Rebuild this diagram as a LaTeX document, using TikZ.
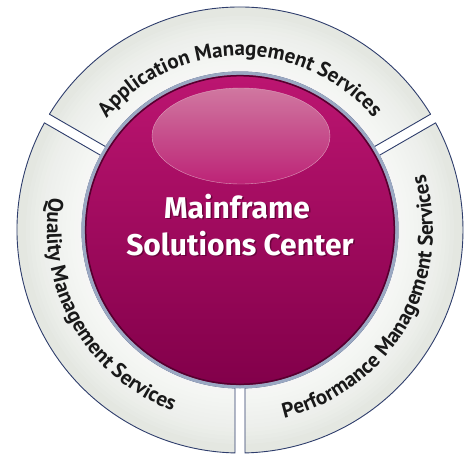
\documentclass[tikz,border=0pt]{standalone}
\usepackage{fontspec}
\setmainfont{Fira Sans}
\newfontfamily\ringfamily{PT Sans}
\usetikzlibrary{decorations.text}
\definecolor{ringedge}{HTML}{2E3D6C}
\definecolor{ringface}{HTML}{E4E7E1}
\definecolor{balltop}{HTML}{BC1571}
\definecolor{ballmid}{HTML}{AD0C63}
\definecolor{ballbot}{HTML}{82004A}
\definecolor{ballrim}{HTML}{55002E}
\definecolor{halo}{HTML}{9AA8C2}
\definecolor{shine}{HTML}{D383A6}
\newcommand\ringfont{\ringfamily\bfseries\fontsize{21}{21}\selectfont}

\begin{document}
\begin{tikzpicture}[x=1pt,y=1pt,
    segment/.style={fill=ringface,draw=ringedge,line width=0.9pt,line join=round,
      path picture={\foreach \r in {214,210,...,162}
        \fill[white,opacity=0.1] (0,0) circle (\r);}},
    ringlabel/.style={decorate,decoration={text along path,text align=center,
        text color=black!90}},
    title/.style={font=\fontsize{30}{30}\bfseries\selectfont,anchor=base}]
  \useasboundingbox (-240,-226) rectangle (233,230);

  % three ring segments, gaps at 30, 150 and 270 degrees
  \foreach \a in {30,150,270} {
    \pgfmathsetmacro\b{\a+120}
    \draw[segment] ({\a+asin(5/223)}:223)
      arc[start angle={\a+asin(5/223)},end angle={\b-asin(5/223)},radius=223]
      -- ({\b-asin(5/158)}:158)
      arc[start angle={\b-asin(5/158)},end angle={\a+asin(5/158)},radius=158]
      -- cycle;
  }

  % ball
  \fill[halo] (0,0) circle (158.5);
  \shade[top color=balltop,middle color=ballmid,bottom color=ballbot] (0,0) circle (155);
  \draw[ballrim,line width=1.5pt] (0,0) circle (154.3);
  \shade[top color=shine,bottom color=balltop!85!shine,draw=shine!70!white,
    line width=0.4pt,opacity=0.9] (1,94) ellipse [x radius=89,y radius=48];

  \node[title,text=ballrim,opacity=0.7] (mainshadow) at (-1.5,10.5) {Mainframe};
  \node[title,text=white] (main) at (-3,12) {Mainframe};
  \node[title,text=ballrim,opacity=0.7] (solshadow) at (1.5,-26.5) {Solutions Center};
  \node[title,text=white] (sol) at (0,-25) {Solutions Center};

  % labels on the ring
  \path[ringlabel,decoration={text={|\ringfont|Application Management Services}}]
    (150:174) arc[start angle=150,end angle=30,radius=174];
  \path[ringlabel,decoration={text={|\ringfont|Quality Management Services}}]
    (150:193) arc[start angle=150,end angle=270,radius=193];
  \path[ringlabel,decoration={text={|\ringfont|Performance Management Services}}]
    (270:193) arc[start angle=270,end angle=390,radius=193];
\end{tikzpicture}
\end{document}
